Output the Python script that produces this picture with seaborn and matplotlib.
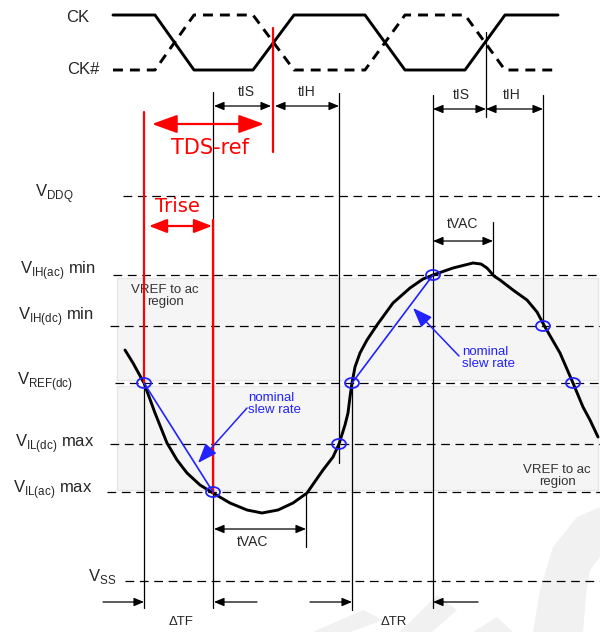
import matplotlib
matplotlib.use("Agg")
import matplotlib.pyplot as plt
from matplotlib.patches import Ellipse, Rectangle
import pandas as pd
import seaborn as sns

sns.set_theme(style="white")
plt.rcParams["font.family"] = ["Liberation Sans", "DejaVu Sans"]
plt.rcParams["mathtext.fontset"] = "custom"
plt.rcParams["mathtext.rm"] = "Liberation Sans"

# ---- clock pair -------------------------------------------------------
ck_x = [113, 155, 194, 253, 294, 365, 405, 465, 505, 558]
ck_y = [15, 15, 70, 70, 15, 15, 70, 70, 15, 15]
ckb_y = [70, 70, 15, 15, 70, 70, 15, 15, 70, 70]

# ---- voltage levels (label, level, dashed-line start, label x, label y) --
level_labels = [r"V$_{\mathregular{DDQ}}$",
                r"V$_{\mathregular{IH(ac)}}$ min",
                r"V$_{\mathregular{IH(dc)}}$ min",
                r"V$_{\mathregular{REF(dc)}}$",
                r"V$_{\mathregular{IL(dc)}}$ max",
                r"V$_{\mathregular{IL(ac)}}$ max",
                r"V$_{\mathregular{SS}}$"]
level_y = [196, 275, 326, 383, 444, 492, 581]
level_x0 = [123, 113, 110, 115, 110, 107, 125]
label_x = [35, 20, 18, 17, 15, 13, 88]
label_y = [194, 271, 317, 382, 444, 490, 577]

# ---- input signal waveform --------------------------------------------
sig_x = [125, 133, 144, 155, 167, 177, 187, 200, 213, 230, 247, 262, 278,
         293, 307, 316, 323, 333, 339, 345, 348, 350, 352, 355, 360, 367,
         377, 393, 410, 423, 433, 453, 473, 481, 487, 494, 500, 513, 527,
         537, 545, 560, 573, 583, 590, 598]
sig_y = [350, 363, 383, 413, 443, 460, 473, 485, 493, 503, 510, 513, 510,
         503, 493, 480, 470, 457, 444, 425, 413, 397, 383, 367, 353, 340,
         325, 303, 288, 279, 275, 268, 263, 264, 268, 276, 280, 290, 300,
         312, 327, 353, 383, 407, 420, 437]

# ---- measurement circles ---------------------------------------------
circle_x = [144, 213, 339, 352, 433, 543, 573]
circle_y = [383, 492, 444, 383, 275, 326, 383]

# ---- timing references -------------------------------------------------
black_vx = [144, 213, 339, 352, 433, 486, 493, 543, 306]
black_vy0 = [383, 92, 93, 383, 95, 32, 222, 95, 494]
black_vy1 = [608, 608, 463, 610, 608, 117, 273, 326, 547]

red_vx = [144, 213, 273]
red_vy0 = [112, 220, 28]
red_vy1 = [383, 493, 152]

fig = plt.figure(figsize=(6.0, 6.32), dpi=100)
ax = fig.add_axes([0, 0, 1, 1])

# faint background logo
wm = "#f1f1f1"
logo_shapes = [
    [[313, 632], [363, 610], [383, 620], [350, 632]],
    [[400, 632], [437, 595], [457, 610], [432, 632]],
    [[473, 632], [497, 617], [513, 632]],
    [[533, 632], [540, 590], [553, 547], [577, 517], [600, 507],
     [600, 557], [590, 570], [586, 595], [583, 632]],
]
for shape in logo_shapes:
    ax.add_patch(plt.Polygon(shape, closed=True, color=wm, lw=0, zorder=0))

# shaded VREF-to-ac regions
ax.add_patch(Rectangle((117, 278), 481, 102, facecolor="#f5f5f5",
                       edgecolor="#e6e6e6", lw=1, zorder=0.5))
ax.add_patch(Rectangle((117, 386), 481, 104, facecolor="#f5f5f5",
                       edgecolor="#e6e6e6", lw=1, zorder=0.5))

# clocks
clk = pd.DataFrame({"x": ck_x, "ck": ck_y, "ckb": ckb_y})
sns.lineplot(data=clk, x="x", y="ck", ax=ax, color="black", lw=2.1,
             sort=False, zorder=3)
ln = sns.lineplot(data=clk, x="x", y="ckb", ax=ax, color="black", lw=2.1,
                  sort=False, zorder=3)
ln.lines[-1].set_dashes((3.4, 2.4))
ax.text(66, 17, "CK", fontsize=12, va="center", ha="left")
ax.text(67, 70, "CK#", fontsize=12, va="center", ha="left")

# voltage levels
for lab, y, x0, lx, ly in zip(level_labels, level_y, level_x0, label_x, label_y):
    ax.plot([x0, 600], [y, y], color="black", lw=0.9, dashes=(7, 4.5), zorder=2)
    ax.text(lx, ly, lab, fontsize=12, va="center", ha="left")

# vertical reference lines
for x, y0, y1 in zip(black_vx, black_vy0, black_vy1):
    ax.plot([x, x], [y0, y1], color="black", lw=0.9, zorder=2)
for x, y0, y1 in zip(red_vx, red_vy0, red_vy1):
    ax.plot([x, x], [y0, y1], color="#ff0000", lw=1.6, zorder=4)

# waveform
sig = pd.DataFrame({"x": sig_x, "y": sig_y})
sns.lineplot(data=sig, x="x", y="y", ax=ax, color="black", lw=2.1,
             sort=False, zorder=3)

blue = "#2222ff"
for cx, cy in zip(circle_x, circle_y):
    ax.add_patch(Ellipse((cx, cy), 14, 10, fill=False, edgecolor=blue,
                         lw=1.3, zorder=5))
ax.plot([144, 213], [383, 492], color=blue, lw=1.2, zorder=4)
ax.plot([352, 433], [383, 275], color=blue, lw=1.2, zorder=4)


def harrow(x0, x1, y, color="black", style="<|-|>", lw=0.9, hl=0.6, hw=0.25,
           ms=10):
    ax.annotate("", xy=(x1, y), xytext=(x0, y),
                arrowprops=dict(arrowstyle=f"{style},head_length={hl},head_width={hw}",
                                color=color, lw=lw, shrinkA=0, shrinkB=0,
                                mutation_scale=ms), zorder=5)


# setup / hold
harrow(214, 271, 106)
harrow(275, 339, 106)
harrow(433, 486, 109)
harrow(486, 543, 109)
tfs = 10
ax.text(246, 92, "tIS", fontsize=tfs, ha="center", va="center")
ax.text(307, 92, "tIH", fontsize=tfs, ha="center", va="center")
ax.text(461, 95, "tIS", fontsize=tfs, ha="center", va="center")
ax.text(512, 95, "tIH", fontsize=tfs, ha="center", va="center")

# tVAC
harrow(433, 493, 241)
ax.text(463, 224, "tVAC", fontsize=tfs, ha="center", va="center")
harrow(214, 306, 529)
ax.text(253, 542, "tVAC", fontsize=tfs, ha="center", va="center")

# red annotations
harrow(152, 264, 124, color="#ff0000", lw=1.6, hl=1.1, hw=0.4, ms=14)
harrow(149, 212, 226, color="#ff0000", lw=1.6, hl=0.9, hw=0.35, ms=12)
ax.text(210, 148, "TDS-ref", fontsize=15, color="#ff0000", ha="center",
        va="center", family=["DejaVu Sans"])
ax.text(177, 207, "Trise", fontsize=14, color="#ff0000", ha="center",
        va="center", family=["DejaVu Sans"])

# bottom delta arrows
harrow(103, 144, 602, style="-|>")
harrow(257, 214, 602, style="-|>")
harrow(310, 352, 602, style="-|>")
harrow(478, 433, 602, style="-|>")
ax.text(181, 622, "ΔTF", fontsize=9.5, ha="center", va="center")
ax.text(394, 622, "ΔTR", fontsize=9.5, ha="center", va="center")

# nominal slew rate callouts
ax.annotate("", xy=(198, 463), xytext=(247, 408),
            arrowprops=dict(arrowstyle="-|>,head_length=1.2,head_width=0.45",
                            color=blue, lw=1.1, shrinkA=0, shrinkB=0,
                            mutation_scale=10), zorder=5)
ax.text(248, 404, "nominal\nslew rate", fontsize=9.5, color=blue,
        ha="left", va="center", linespacing=1.0)
ax.annotate("", xy=(413, 308), xytext=(459, 356),
            arrowprops=dict(arrowstyle="-|>,head_length=1.2,head_width=0.45",
                            color=blue, lw=1.1, shrinkA=0, shrinkB=0,
                            mutation_scale=10), zorder=5)
ax.text(462, 358, "nominal\nslew rate", fontsize=9.5, color=blue,
        ha="left", va="center", linespacing=1.0)

# region captions
ax.text(165, 296, "VREF to ac\nregion", fontsize=9.5, color="#333333",
        ha="center", va="center", linespacing=1.0)
ax.text(557, 476, "VREF to ac\nregion", fontsize=9.5, color="#333333",
        ha="center", va="center", linespacing=1.0)

ax.set_xlim(0, 600)
ax.set_ylim(632, 0)
ax.axis("off")
fig.savefig("out.png", dpi=100)
